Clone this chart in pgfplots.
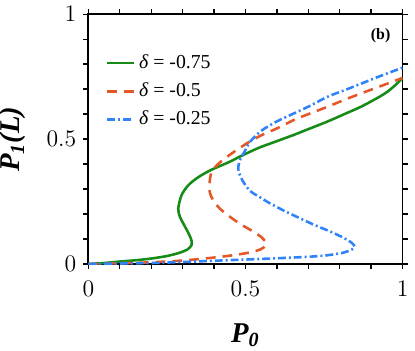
\documentclass[border=0pt]{standalone}
\usepackage{fontspec}
\setmainfont{Liberation Serif}
\usepackage{pgfplots}
\pgfplotsset{compat=1.18}

\definecolor{cgreen}{RGB}{22,140,22}
\definecolor{cred}{RGB}{228,88,40}
\definecolor{cblue}{RGB}{48,130,250}

\begin{document}
\begin{tikzpicture}
\begin{axis}[
    width=159pt, height=126.4pt,
    scale only axis,
    xmin=0, xmax=1, ymin=0, ymax=1,
    xtick={0,0.5,1}, ytick={0,0.5,1},
    minor tick num=4,
    tick align=outside,
    major tick length=2.6pt, minor tick length=2.6pt,
    every tick/.style={black, line width=0.7pt},
    axis line style={line width=0.9pt},
    tick label style={font=\fontsize{13}{14}\selectfont},
    xticklabel style={yshift=-2.5pt},
    xlabel={\fontsize{14.5}{16}\selectfont\bfseries\itshape P\textsubscript{0}},
    ylabel={\fontsize{14.5}{16}\selectfont\bfseries\itshape P\textsubscript{1}(L)},
    xlabel style={at={(axis description cs:0.5,-0.315)}, anchor=base, inner xsep=0pt, inner ysep=1.5pt},
    ylabel style={at={(axis description cs:-0.218,0.5)}, anchor=base, inner sep=0pt},
    legend style={draw=none, fill=none, at={(0.055,0.855)}, anchor=north west,
        font=\fontsize{10}{12}\selectfont, row sep=1.7pt, inner sep=0pt},
    legend cell align=left,
    legend image code/.code={\draw[#1] (0cm,0cm) -- (0.47cm,0cm);},
]
\addplot[cgreen, line width=1.3pt, smooth] coordinates {
(0,0) (0.05,0.004) (0.1,0.010) (0.15,0.015) (0.2,0.022) (0.25,0.032) (0.29,0.045)
(0.315,0.058) (0.328,0.075) (0.328,0.095) (0.318,0.125) (0.303,0.16) (0.291,0.19)
(0.286,0.222) (0.296,0.274) (0.317,0.314) (0.349,0.347) (0.391,0.377)
(0.444,0.406) (0.487,0.433) (0.54,0.464) (0.6,0.492) (0.656,0.518) (0.7,0.54)
(0.762,0.571) (0.82,0.603) (0.868,0.63) (0.92,0.665) (0.952,0.69) (0.98,0.72) (1.0,0.745)
};
\addlegendentry{\textit{δ} = -0.75}
\addplot[cred, line width=1.3pt, smooth, dash pattern=on 5pt off 3.5pt] coordinates {
(0,0) (0.1,0.003) (0.2,0.007) (0.3,0.014) (0.4,0.026) (0.47,0.037) (0.52,0.048)
(0.55,0.06) (0.565,0.075) (0.563,0.09) (0.55,0.108) (0.525,0.13) (0.49,0.155)
(0.455,0.185) (0.42,0.22) (0.397,0.255) (0.386,0.29) (0.386,0.33) (0.393,0.37)
(0.418,0.406) (0.46,0.446) (0.508,0.486) (0.55,0.515) (0.6,0.543) (0.656,0.578)
(0.7,0.6) (0.762,0.63) (0.82,0.66) (0.868,0.683) (0.93,0.712) (1.0,0.745)
};
\addlegendentry{\textit{δ} = -0.5}
\addplot[cblue, line width=1.3pt, smooth, dash pattern=on 4pt off 1.5pt on 1pt off 1.5pt] coordinates {
(0,0) (0.1,0.002) (0.2,0.004) (0.3,0.008) (0.4,0.013) (0.5,0.018) (0.6,0.023)
(0.7,0.029) (0.76,0.035) (0.81,0.045) (0.838,0.058) (0.847,0.07) (0.838,0.085)
(0.815,0.103) (0.77,0.13) (0.72,0.156) (0.67,0.185) (0.62,0.215) (0.575,0.245)
(0.54,0.272) (0.519,0.288) (0.5,0.315) (0.486,0.345) (0.477,0.38) (0.482,0.415)
(0.497,0.45) (0.515,0.49) (0.55,0.533) (0.6,0.571) (0.656,0.604) (0.7,0.63)
(0.762,0.67) (0.82,0.698) (0.868,0.722) (0.93,0.753) (1.0,0.786)
};
\addlegendentry{\textit{δ} = -0.25}
\node[font=\fontsize{8}{9}\selectfont\bfseries] at (axis cs:0.93,0.914) {(b)};
\end{axis}
\end{tikzpicture}
\end{document}
